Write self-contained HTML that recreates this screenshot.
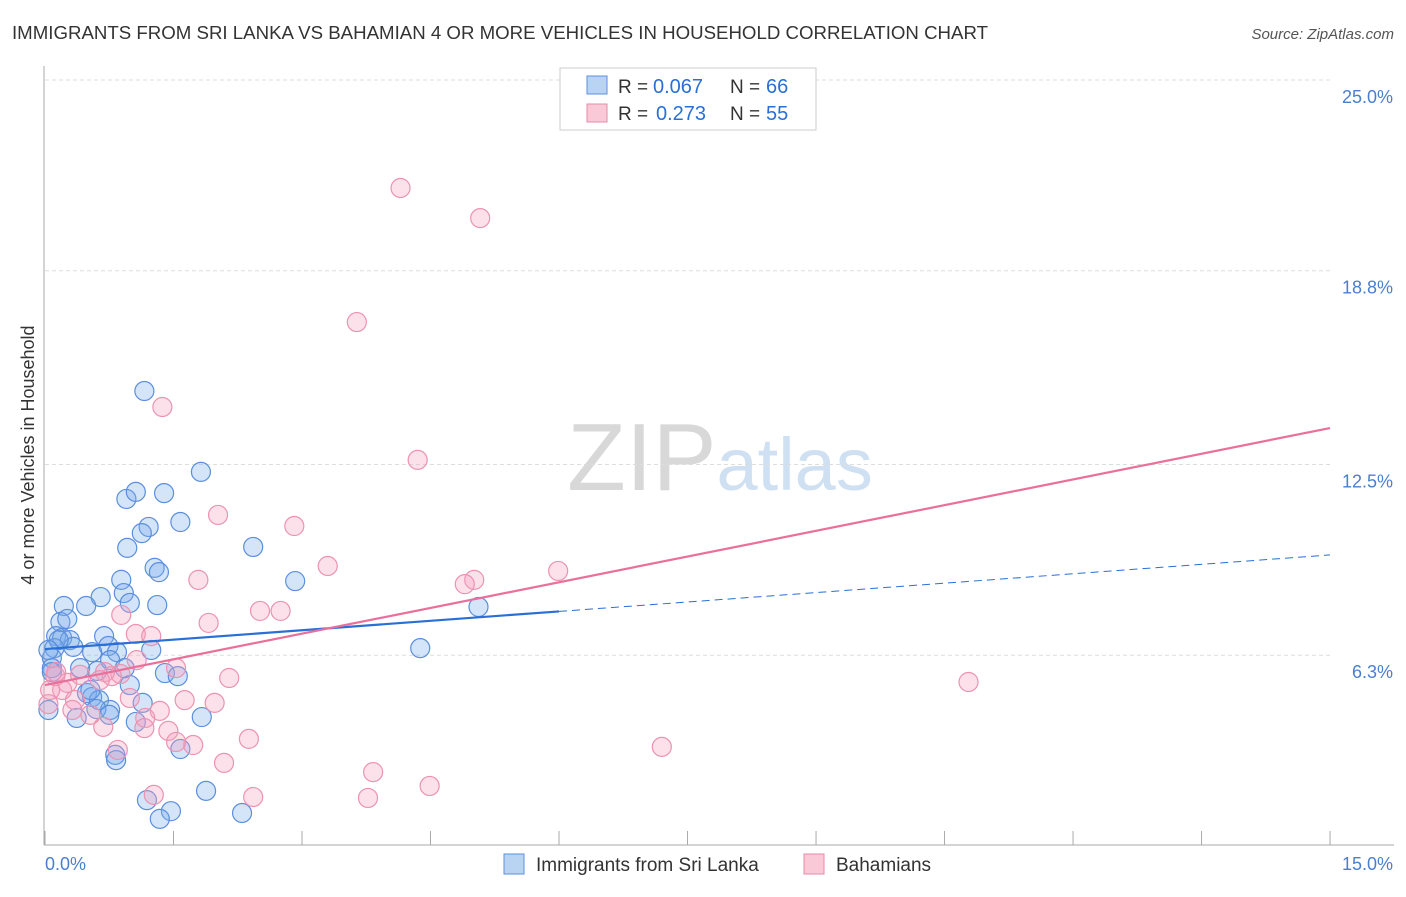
<!DOCTYPE html>
<html><head><meta charset="utf-8"><style>
body{margin:0;background:#fff;font-family:"Liberation Sans",sans-serif}
svg text{font-family:"Liberation Sans",sans-serif}
</style></head><body>
<svg id="chart" width="1406" height="892" xmlns="http://www.w3.org/2000/svg">
<text x="12" y="39" font-size="18" fill="#333" textLength="976" lengthAdjust="spacingAndGlyphs">IMMIGRANTS FROM SRI LANKA VS BAHAMIAN 4 OR MORE VEHICLES IN HOUSEHOLD CORRELATION CHART</text>
<text x="1394" y="39" font-size="15" fill="#555" text-anchor="end" font-style="italic">Source: ZipAtlas.com</text>
<text x="720" y="490" font-size="96" text-anchor="middle" fill="#ddd" font-family="Liberation Serif"><tspan fill="#d8d8d8">ZIP</tspan><tspan fill="#cfe0f3" font-family="Liberation Sans" font-size="74">atlas</tspan></text>
<g id="grid"></g>
<g id="axes"></g>
<g id="marks"></g>
<text transform="translate(34,455) rotate(-90)" font-size="18" fill="#333" text-anchor="middle">4 or more Vehicles in Household</text>
<text x="45" y="870" font-size="18" fill="#4a7fd0">0.0%</text>
<text x="1393" y="870" font-size="18" fill="#4a7fd0" text-anchor="end">15.0%</text>
<g>
<rect x="560" y="68" width="256" height="62" fill="#fff" stroke="#ccc"/>
<rect x="587" y="76" width="20" height="18" fill="#b9d3f3" stroke="#5b8fdc"/>
<text x="618" y="93" font-size="19" fill="#333">R =</text>
<text x="653" y="93" font-size="20" fill="#2a6fd6">0.067</text>
<text x="730" y="93" font-size="19" fill="#333">N =</text>
<text x="766" y="93" font-size="20" fill="#2a6fd6">66</text>
<rect x="587" y="104" width="20" height="18" fill="#f9c9d8" stroke="#e88aa8"/>
<text x="618" y="120" font-size="19" fill="#333">R =</text>
<text x="656" y="120" font-size="20" fill="#2a6fd6">0.273</text>
<text x="730" y="120" font-size="19" fill="#333">N =</text>
<text x="766" y="120" font-size="20" fill="#2a6fd6">55</text>
</g>
<g>
<rect x="504" y="854" width="20" height="20" fill="#b9d3f3" stroke="#5b8fdc"/>
<text x="536" y="871" font-size="19" fill="#333">Immigrants from Sri Lanka</text>
<rect x="804" y="854" width="20" height="20" fill="#f9c9d8" stroke="#e88aa8"/>
<text x="836" y="871" font-size="19" fill="#333">Bahamians</text>
</g>
</svg>
<script>
const yTicks=[25.0,18.8,12.5,6.3];
const yTickLabels=["25.0%","18.8%","12.5%","6.3%"];
const xTicks=[0,1.5,3,4.5,6,7.5,9,10.5,12,13.5,15];
const blueX=[1.16,1.82,1.39,0.95,1.06,1.58,1.21,1.13,0.96,2.43,1.28,1.33,0.89,0.92,0.99,1.31,0.65,0.48,0.22,2.92,5.06,4.38,0.18,0.26,0.13,0.20,0.29,0.33,0.69,0.74,0.84,0.55,1.24,0.11,0.08,0.41,0.61,0.76,1.40,1.55,0.08,0.99,0.49,0.55,0.63,0.76,1.14,0.60,0.75,1.06,1.83,0.37,0.04,0.82,0.83,1.58,1.19,1.47,1.88,1.34,2.30,0.16,0.04,0.93,0.08,0.53];
const blueY=[14.89,12.26,11.57,11.38,11.61,10.63,10.47,10.27,9.79,9.82,9.14,9.0,8.75,8.32,8.0,7.93,8.19,7.9,7.9,8.71,7.87,6.53,7.38,7.48,6.92,6.86,6.79,6.57,6.92,6.6,6.4,6.4,6.47,6.53,6.21,5.88,5.79,6.14,5.72,5.62,5.88,5.33,5.07,4.94,4.84,4.52,4.75,4.55,4.36,4.13,4.29,4.26,4.52,3.06,2.89,3.25,1.59,1.23,1.89,0.98,1.17,6.79,6.47,5.88,5.75,5.17];
const pinkX=[4.15,5.08,3.64,1.37,4.35,2.02,2.91,3.30,1.79,5.01,4.90,5.99,2.51,2.75,1.91,0.89,1.06,1.24,0.88,1.53,10.78,2.15,0.99,1.63,1.98,0.70,0.12,0.26,0.20,0.04,0.35,1.34,1.17,1.16,1.44,0.68,0.53,0.85,1.73,1.53,2.38,7.20,2.09,3.83,1.27,2.43,3.77,4.49,0.13,0.78,0.06,0.32,0.64,1.07,0.41];
const pinkY=[21.49,20.51,17.13,14.37,12.65,10.86,10.5,9.2,8.75,8.75,8.61,9.04,7.74,7.74,7.35,7.61,6.99,6.92,5.69,5.88,5.43,5.56,4.91,4.84,4.75,5.75,5.62,5.4,5.17,4.71,4.84,4.49,4.26,3.93,3.84,3.97,4.36,3.22,3.38,3.48,3.58,3.32,2.8,2.5,1.76,1.69,1.66,2.05,5.75,5.62,5.17,4.52,5.49,6.14,5.66];
const blueTrend=[6.5,0.204]; // intercept, slope
const pinkTrend=[5.33,0.557];
const NS="http://www.w3.org/2000/svg";
const X=v=>45+v*85.67, Y=v=>80+(25-v)*30.76;
function mk(tag,attrs,parent){const e=document.createElementNS(NS,tag);for(const k in attrs)e.setAttribute(k,attrs[k]);parent.appendChild(e);return e;}
const grid=document.getElementById('grid'),axes=document.getElementById('axes'),marks=document.getElementById('marks');
yTicks.forEach((t,i)=>{
 const l=mk('line',{x1:45,x2:1330,y1:Y(t),y2:Y(t),stroke:'#ddd','stroke-dasharray':'4,3'},grid);
 
 
 const tx=mk('text',{x:1393,y:Y(t)+23,'font-size':18,fill:'#4a7fd0','text-anchor':'end'},grid);
 tx.textContent=yTickLabels[i];
 
 
});
const ya=mk('line',{x1:44,x2:44,y1:66,y2:845,stroke:'#aaa'},axes);


const xa=mk('line',{x1:44,x2:1394,y1:845,y2:845,stroke:'#aaa'},axes);


xTicks.forEach(t=>{
 const l=mk('line',{x1:X(t),x2:X(t),y1:831,y2:845,stroke:'#aaa'},axes);
 
 
});
function pts(xs,ys,fill,stroke,name){
 xs.forEach((x,i)=>{
  const c=mk('circle',{cx:X(x),cy:Y(ys[i]),r:9.5,fill:fill,stroke:stroke,'stroke-width':1.2},marks);
  
  
 });
}
pts(blueX,blueY,'rgba(120,170,235,0.32)','#5b8fdc','sri-lanka-point');
pts(pinkX,pinkY,'rgba(245,160,190,0.32)','#eb93b0','bahamian-point');
const b1=mk('line',{x1:X(0),y1:Y(blueTrend[0]),x2:X(6),y2:Y(blueTrend[0]+6*blueTrend[1]),stroke:'#2a6fd6','stroke-width':2.2},marks);


const b2=mk('line',{x1:X(6),y1:Y(blueTrend[0]+6*blueTrend[1]),x2:X(15),y2:Y(blueTrend[0]+15*blueTrend[1]),stroke:'#2a6fd6','stroke-width':1,'stroke-dasharray':'8,5'},marks);


const p1=mk('line',{x1:X(0),y1:Y(pinkTrend[0]),x2:X(15),y2:Y(pinkTrend[0]+15*pinkTrend[1]),stroke:'#e8709a','stroke-width':2.2},marks);


</script>
</body></html>
